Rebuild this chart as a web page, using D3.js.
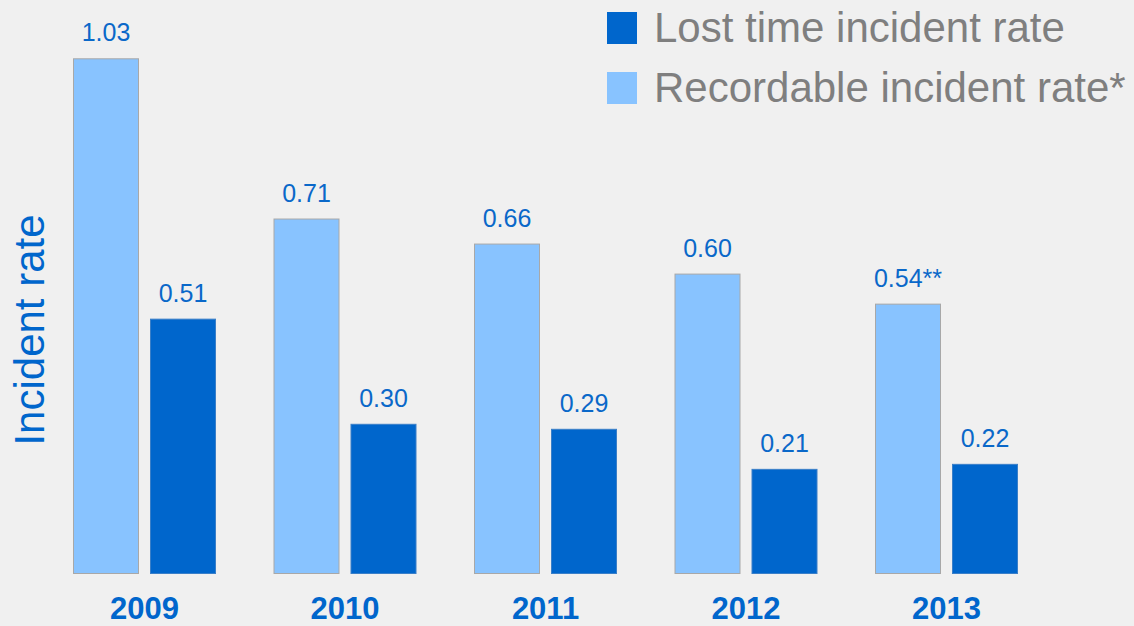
<!DOCTYPE html>
<html>
<head>
<meta charset="utf-8">
<script src="https://cdn.jsdelivr.net/npm/d3@7"></script>
<style>
  html, body { margin: 0; padding: 0; background: #f0f0f0; }
  svg { display: block; font-family: Arial, "Liberation Sans", sans-serif; }
</style>
</head>
<body>
<svg id="chart" width="1134" height="626"></svg>
<script>
const years = ["2009", "2010", "2011", "2012", "2013"];
const recordableRate = [1.03, 0.71, 0.66, 0.60, 0.54];
const lostTimeRate = [0.51, 0.30, 0.29, 0.21, 0.22];
const recordableLabels = ["1.03", "0.71", "0.66", "0.60", "0.54**"];
const lostTimeLabels = ["0.51", "0.30", "0.29", "0.21", "0.22"];
const seriesKeys = ["recordable", "lost"];
const legendNames = ["Lost time incident rate", "Recordable incident rate*"];

const W = 1134, H = 626;
const svg = d3.select("#chart");
svg.append("rect").attr("width", W).attr("height", H).attr("fill", "#f0f0f0");

const colors = { recordable: "#88c3ff", lost: "#0066cc" };

const x0 = d3.scaleBand().domain(years).range([73, 1018]).paddingInner(57.5 / 200.5).paddingOuter(0);
const x1 = d3.scaleBand().domain(seriesKeys).range([0, x0.bandwidth()]).paddingInner(11 / 77).paddingOuter(0);
const y = d3.scaleLinear().domain([0, 1.03]).range([574, 58.3]);

const rows = years.map((yr, i) => ({
  year: yr,
  vals: [
    { key: "recordable", v: recordableRate[i], label: recordableLabels[i] },
    { key: "lost", v: lostTimeRate[i], label: lostTimeLabels[i] }
  ]
}));

const g = svg.append("g");
const groups = g.selectAll("g.grp").data(rows).join("g")
  .attr("class", "grp")
  .attr("transform", d => `translate(${x0(d.year)},0)`);

groups.selectAll("rect").data(d => d.vals).join("rect")
  .attr("x", d => x1(d.key) + 0.5)
  .attr("y", d => y(d.v) + 0.5)
  .attr("width", x1.bandwidth() - 1)
  .attr("height", d => y(0) - y(d.v) - 1)
  .attr("fill", d => colors[d.key])
  .attr("stroke", d => d.key === "recordable" ? "#a8a8a8" : "#3a7fc8")
  .attr("stroke-width", 1);

groups.selectAll("text.val").data(d => d.vals).join("text")
  .attr("class", "val")
  .attr("x", d => x1(d.key) + x1.bandwidth() / 2)
  .attr("y", d => y(d.v) - 17)
  .attr("text-anchor", "middle")
  .attr("font-size", 25)
  .attr("fill", "#0a68c9")
  .text(d => d.label);

// x axis labels
const xAxis = d3.axisBottom(x0).tickSize(0).tickPadding(0);
const ax = svg.append("g").attr("transform", "translate(0,574)").call(xAxis);
ax.select(".domain").remove();
ax.selectAll("text")
  .attr("y", 45)
  .attr("dy", 0)
  .attr("font-size", 31)
  .attr("font-weight", "bold")
  .attr("font-family", "Arial, 'Liberation Sans', sans-serif")
  .attr("fill", "#0066cc");

// y axis title
svg.append("text")
  .attr("transform", "translate(44,330) rotate(-90)")
  .attr("text-anchor", "middle")
  .attr("font-size", 42)
  .attr("fill", "#0066cc")
  .text("Incident rate");

// legend
const legendColors = [colors.lost, colors.recordable];
const lg = svg.append("g");
legendNames.forEach((name, i) => {
  const yy = 12 + i * 60;
  lg.append("rect").attr("x", 607).attr("y", yy).attr("width", 30).attr("height", 32).attr("fill", legendColors[i]);
  lg.append("text").attr("x", 654).attr("y", yy + 30)
    .attr("font-size", 42).attr("fill", "#7f7f7f").text(name);
});
</script>
</body>
</html>
